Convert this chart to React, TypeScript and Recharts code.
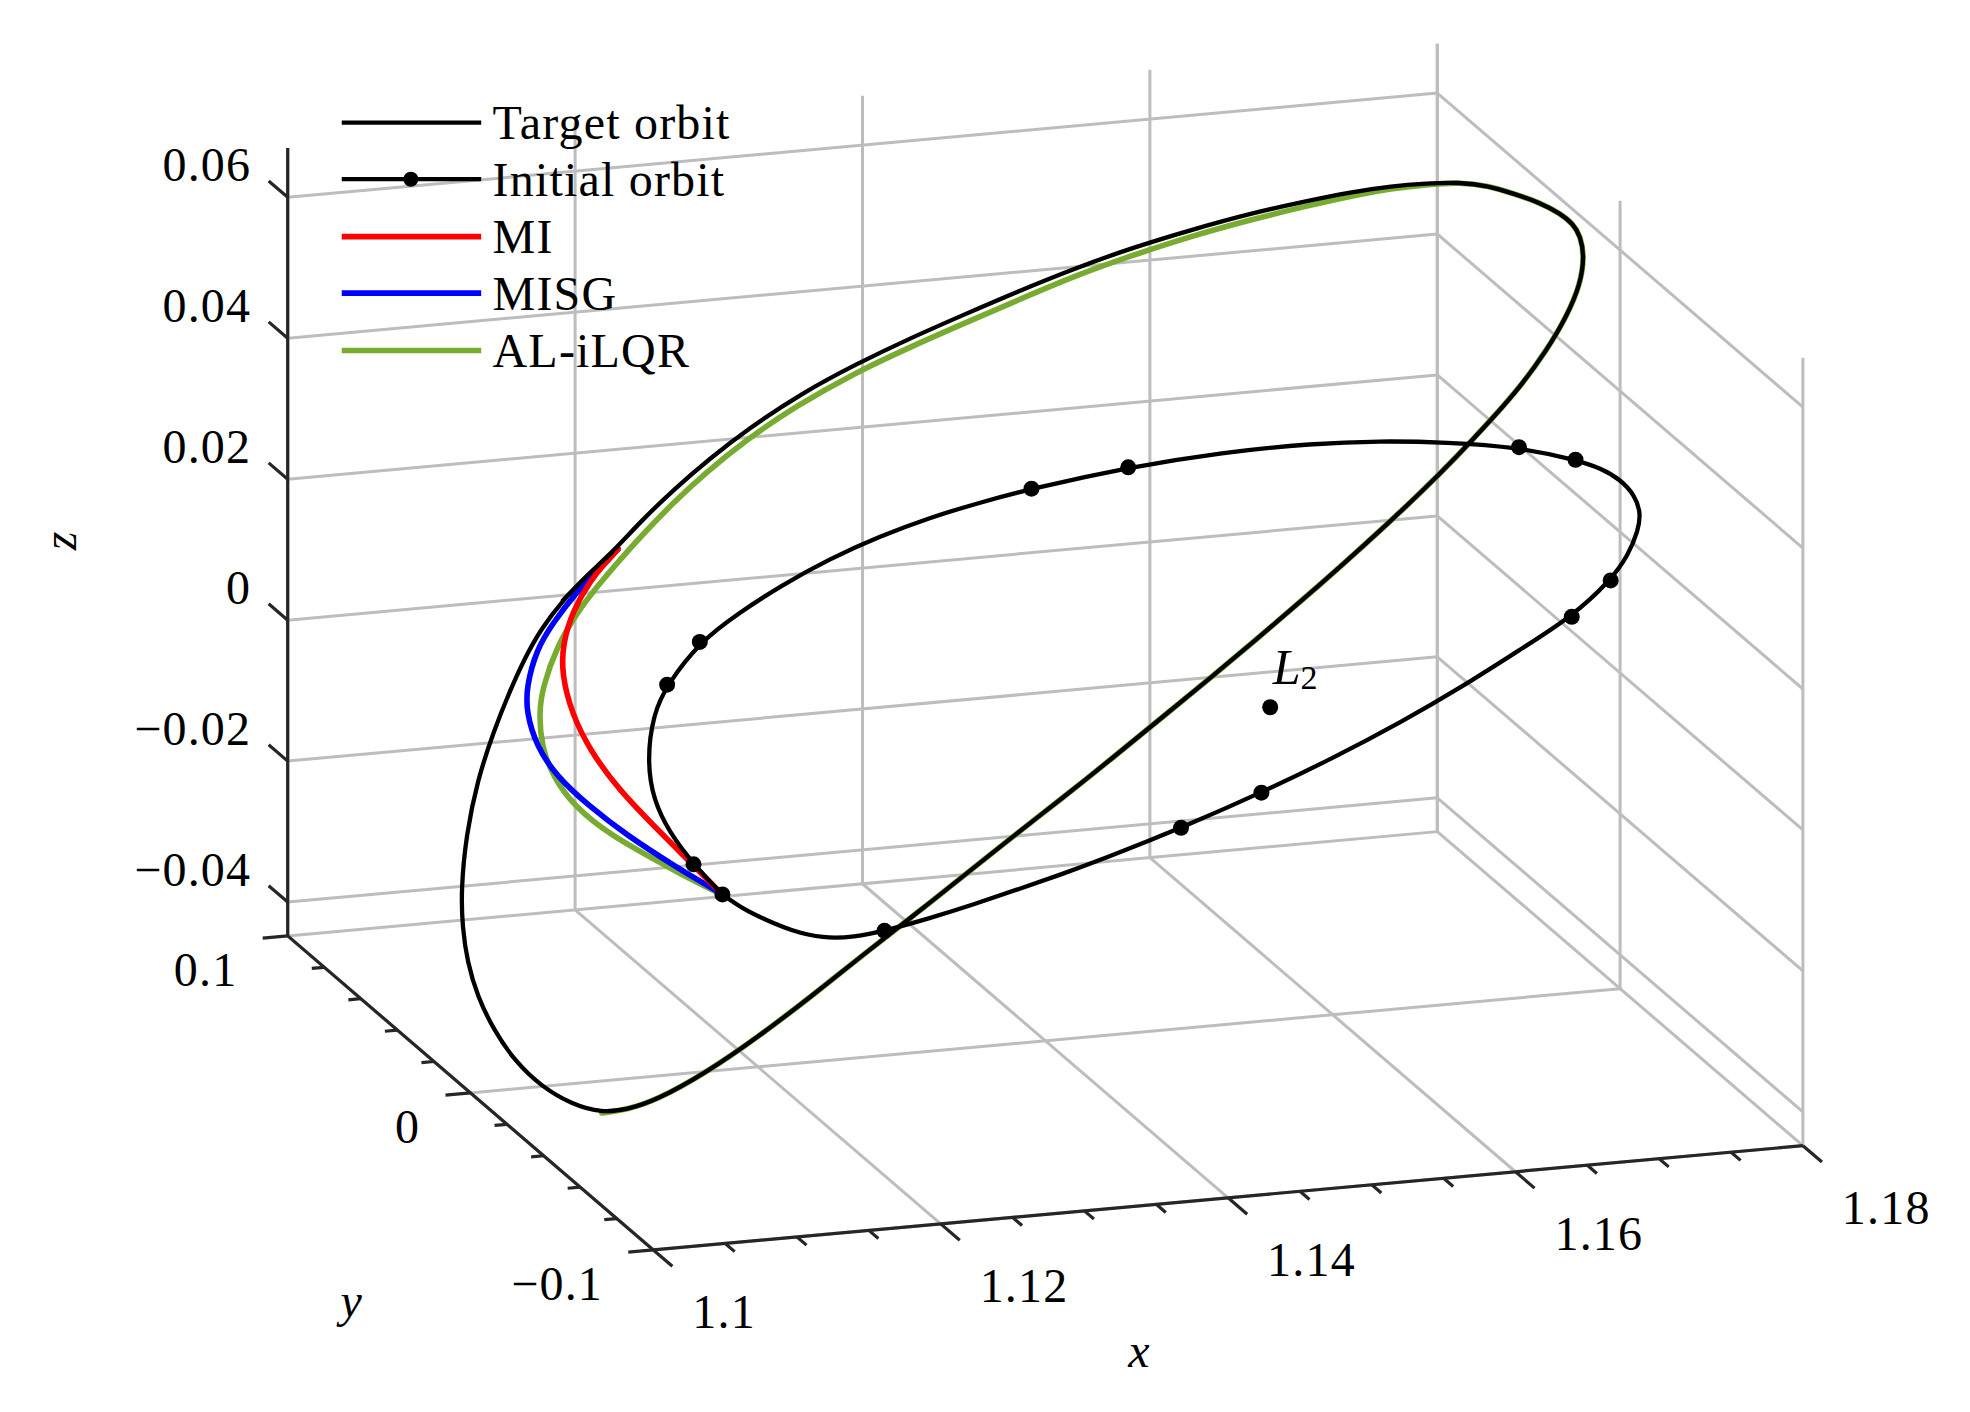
import { ComposedChart, Line, Scatter, XAxis, YAxis } from "recharts";

const CHART_W = 1970;
const CHART_H = 1412;
// plot space: the picture measured at 1568 x 1124
const SPACE_W = 1568;
const SPACE_H = 1124;

// axes (data units)
const xTicks = [1.1, 1.12, 1.14, 1.16, 1.18];
const yTicks = [-0.1, 0, 0.1];
const zTicks = [-0.04, -0.02, 0, 0.02, 0.04, 0.06];
const xTickLabels = ["1.1", "1.12", "1.14", "1.16", "1.18"];
const yTickLabels = ["\u22120.1", "0", "0.1"];
const zTickLabels = ["\u22120.04", "\u22120.02", "0", "0.02", "0.04", "0.06"];
const xLim = [1.1, 1.18];
const yLim = [-0.1, 0.1];
const zLim = [-0.0448, 0.067];

// view of the 3d box in plot space
const corner = [229, 745];
const xDir = [915, -83];
const yDir = [291, 250];
const zPerUnit = 5610;

// projected trajectories
const targetOrbit = [
	[448, 478], [467, 458], [487, 440], [510, 415], [537, 389], [565, 365], [596, 341],
	[638, 313], [683, 289], [725, 269], [766, 251], [810, 232], [857, 213], [902, 197],
	[948, 183], [995, 170], [1040, 160], [1075, 153], [1108, 148], [1135, 146], [1162, 145],
	[1185, 148], [1204, 154], [1225, 161], [1242, 170], [1252, 178], [1258, 188], [1261, 204],
	[1258, 226], [1247, 252], [1231, 279], [1210, 308], [1187, 334], [1160, 363], [1130, 393],
	[1100, 421], [1068, 450], [1035, 479], [1000, 509], [963, 540], [925, 571], [886, 603],
	[846, 635], [806, 666], [766, 698], [727, 729], [687, 760], [646, 793], [604, 825],
	[562, 854], [522, 876], [500, 883], [479, 886], [455, 879], [431, 865], [410, 845],
	[393, 820], [380, 793], [372, 766], [368, 738], [367, 708], [371, 665], [380, 621],
	[393, 582], [405, 552], [417, 525], [431, 500], [448, 478], [467, 458], [487, 440],
];

const initialOrbit = [
	[575, 712], [592, 724], [609, 732], [630, 741], [655, 747], [680, 746], [704, 741],
	[740, 731], [775, 720], [810, 708], [845, 696], [880, 683], [915, 669], [940, 659],
	[1004, 631], [1060, 604], [1115, 575], [1165, 546], [1210, 517], [1251, 491], [1282, 462],
	[1296, 442], [1304, 422], [1306, 408], [1301, 394], [1290, 382], [1275, 373], [1254, 366],
	[1209, 356], [1151, 352], [1098, 351], [1045, 353], [973, 360], [898, 372], [821, 389],
	[780, 400], [740, 412], [700, 427], [660, 445], [622, 466], [588, 488], [557, 511],
	[531, 545], [520, 568], [515, 605], [520, 637], [533, 663], [552, 688], [575, 712],
];

const initialMarkers = [
	[557, 511], [531, 545], [552, 688], [575, 712], [704, 741], [940, 659], [1004, 631],
	[1251, 491], [1282, 462], [1254, 366], [1209, 356], [898, 372], [821, 389],
];

const miPath = [
	[575, 712], [562, 699], [547, 684], [521, 658], [492, 628], [470, 598], [455, 568],
	[447, 536], [448, 512], [456, 486], [470, 462], [481, 449], [492, 437],
];

const misgPath = [
	[575, 712], [558, 702], [538, 690], [499, 665], [468, 641], [443, 618], [427, 594],
	[419, 567], [419, 547], [427, 517], [440, 496], [459, 471], [476, 454], [492, 437],
];

const alIlqrTransfer = [
	[575, 712], [566, 708], [546, 698], [528, 688], [486, 665], [457, 642], [440, 618],
	[431, 594], [429, 567], [432, 547], [443, 515], [459, 488], [476, 466], [493, 446],
	[512, 425], [535, 401], [562, 376], [594, 350], [634, 323], [680, 297], [725, 276],
	[766, 258], [810, 239], [857, 219], [902, 203], [948, 188], [995, 175], [1040, 164],
	[1075, 156], [1108, 150], [1135, 147], [1162, 145],
];

const l2Point = [1011, 563];

const legendNames = ["Target orbit", "Initial orbit", "MI", "MISG", "AL-iLQR"];
const legendColors = ["#000000", "#000000", "#ff0000", "#0000ff", "#77ac30"];
const legendRows = [97.6, 142.6, 188.4, 233.3, 279];

type P = { x: number; y: number };

const toPts = (arr: number[][]): P[] => arr.map(([x, y]) => ({ x, y }));

const proj = (x: number, y: number, z: number): P => {
	const u = (x - xLim[0]) / (xLim[1] - xLim[0]);
	const v = (yLim[1] - y) / (yLim[1] - yLim[0]);
	return {
		x: corner[0] + u * xDir[0] + v * yDir[0],
		y: corner[1] + u * xDir[1] + v * yDir[1] - (z - zLim[0]) * zPerUnit,
	};
};

const norm = (d: number[]) => {
	const l = Math.hypot(d[0], d[1]);
	return [d[0] / l, d[1] / l];
};
const xUnit = norm(xDir);
const yUnit = norm(yDir);

const tickSeg = (p: P, dir: number[], len: number): P[] => [
	p,
	{ x: p.x + dir[0] * len, y: p.y + dir[1] * len },
];

// gridlines on the back wall, right wall and floor
const gridSegs: P[][] = [];
xTicks.forEach((x) => {
	gridSegs.push([proj(x, yLim[1], zLim[0]), proj(x, yLim[1], zLim[1])]);
	gridSegs.push([proj(x, yLim[0], zLim[0]), proj(x, yLim[1], zLim[0])]);
});
yTicks.forEach((y) => {
	gridSegs.push([proj(xLim[1], y, zLim[0]), proj(xLim[1], y, zLim[1])]);
	gridSegs.push([proj(xLim[0], y, zLim[0]), proj(xLim[1], y, zLim[0])]);
});
zTicks.forEach((z) => {
	gridSegs.push([proj(xLim[0], yLim[1], z), proj(xLim[1], yLim[1], z)]);
	gridSegs.push([proj(xLim[1], yLim[0], z), proj(xLim[1], yLim[1], z)]);
});

// axis lines and ticks
const axisSegs: P[][] = [
	[proj(xLim[0], yLim[1], zLim[0]), proj(xLim[0], yLim[1], zLim[1])],
	[proj(xLim[0], yLim[1], zLim[0]), proj(xLim[0], yLim[0], zLim[0])],
	[proj(xLim[0], yLim[0], zLim[0]), proj(xLim[1], yLim[0], zLim[0])],
];
zTicks.forEach((z) => axisSegs.push(tickSeg(proj(xLim[0], yLim[1], z), [-yUnit[0], -yUnit[1]], 20)));
for (let i = 0; i <= 16; i++) {
	const x = 1.1 + i * 0.005;
	axisSegs.push(tickSeg(proj(x, yLim[0], zLim[0]), yUnit, i % 4 === 0 ? 20 : 10));
}
for (let i = 0; i <= 10; i++) {
	const y = -0.1 + i * 0.02;
	axisSegs.push(tickSeg(proj(xLim[0], y, zLim[0]), [-xUnit[0], -xUnit[1]], i % 5 === 0 ? 20 : 10));
}

type Lbl = P & { text: string; anchor: string; italic?: boolean; rotate?: number };

const tickLabels: Lbl[] = [
	...zTicks.map((z, i) => {
		const p = proj(xLim[0], yLim[1], z);
		return { x: p.x - 29, y: p.y - 26, text: zTickLabels[i], anchor: "end" };
	}),
	...yTicks.map((y, i) => {
		const p = proj(xLim[0], y, zLim[0]);
		return { x: p.x - 40, y: p.y + 27, text: yTickLabels[i], anchor: "end" };
	}),
	...xTicks.map((x, i) => {
		const p = proj(x, yLim[0], zLim[0]);
		return { x: p.x + 31, y: p.y + 49, text: xTickLabels[i], anchor: "start" };
	}),
];

const axisTitles: Lbl[] = [
	{ x: 907, y: 1075, text: "x", anchor: "middle", italic: true },
	{ x: 280, y: 1035, text: "y", anchor: "middle", italic: true },
	{ x: 47, y: 430, text: "z", anchor: "middle", italic: true, rotate: -90 },
];

const legendLabels: Lbl[] = legendNames.map((name, i) => ({
	x: 392,
	y: legendRows[i],
	text: name,
	anchor: "start",
}));

const FONT = '"Liberation Serif", "Times New Roman", serif';

const TextShape = (props: any) => {
	const { cx, cy, payload } = props;
	return (
		<text
			x={cx}
			y={cy}
			textAnchor={payload.anchor}
			dominantBaseline="central"
			fontFamily={FONT}
			fontSize={48}
			letterSpacing={1.2}
			fontStyle={payload.italic ? "italic" : "normal"}
			fill="#000"
			transform={payload.rotate ? `rotate(${payload.rotate} ${cx} ${cy})` : undefined}>
			{payload.text}
		</text>
	);
};

const L2Label = (props: any) => {
	const { cx, cy } = props;
	return (
		<text x={cx} y={cy} dominantBaseline="central" fontFamily={FONT} fontSize={50} fill="#000">
			<tspan fontStyle="italic">L</tspan>
			<tspan fontSize={34} dy={10}>2</tspan>
		</text>
	);
};

const dotShape = (r: number) => (props: any) => <circle cx={props.cx} cy={props.cy} r={r} fill="#000" />;

const plainLine = (key: string, data: P[], stroke: string, width: number) => (
	<Line
		key={key}
		data={data}
		dataKey="y"
		type="linear"
		stroke={stroke}
		strokeWidth={width}
		dot={false}
		activeDot={false}
		isAnimationActive={false}
	/>
);

const curve = (key: string, data: P[], stroke: string, width: number) => (
	<Line
		key={key}
		data={data}
		dataKey="y"
		type="basis"
		stroke={stroke}
		strokeWidth={width}
		strokeLinejoin="round"
		strokeLinecap="round"
		dot={false}
		activeDot={false}
		isAnimationActive={false}
	/>
);

const alIlqrPath = [...toPts(alIlqrTransfer), ...toPts(targetOrbit.slice(21, 53))];

export default function App() {
	return (
		<div style={{ position: "absolute", left: 0, top: 0, background: "#fff" }}>
			<ComposedChart width={CHART_W} height={CHART_H} margin={{ top: 0, right: 0, bottom: 0, left: 0 }}>
				<XAxis type="number" dataKey="x" domain={[0, SPACE_W]} hide allowDataOverflow />
				<YAxis type="number" dataKey="y" domain={[0, SPACE_H]} hide reversed allowDataOverflow />
				{gridSegs.map((d, i) => plainLine(`grid${i}`, d, "#bdbdbd", 3))}
				{axisSegs.map((d, i) => plainLine(`axis${i}`, d, "#262626", 3.2))}
				{curve("aliLQR", alIlqrPath, "#77ac30", 5.6)}
				{curve("misg", toPts(misgPath), "#0000ff", 5.6)}
				{curve("mi", toPts(miPath), "#ff0000", 5.6)}
				{curve("target", toPts(targetOrbit), "#000000", 4.3)}
				{curve("initial", toPts(initialOrbit), "#000000", 4.3)}
				<Scatter data={toPts(initialMarkers)} shape={dotShape(8)} isAnimationActive={false} />
				<Scatter data={[{ x: l2Point[0], y: l2Point[1] }]} shape={dotShape(8)} isAnimationActive={false} />
				<Scatter data={[{ x: 1013, y: 531 }]} shape={L2Label} isAnimationActive={false} />
				{legendRows.map((y, i) =>
					plainLine(`leg${i}`, [{ x: 272, y }, { x: 383, y }], legendColors[i], i < 2 ? 4.3 : 5.6)
				)}
				<Scatter data={[{ x: 327, y: legendRows[1] }]} shape={dotShape(7.5)} isAnimationActive={false} />
				<Scatter data={[...tickLabels, ...axisTitles, ...legendLabels]} shape={TextShape} isAnimationActive={false} />
			</ComposedChart>
		</div>
	);
}
